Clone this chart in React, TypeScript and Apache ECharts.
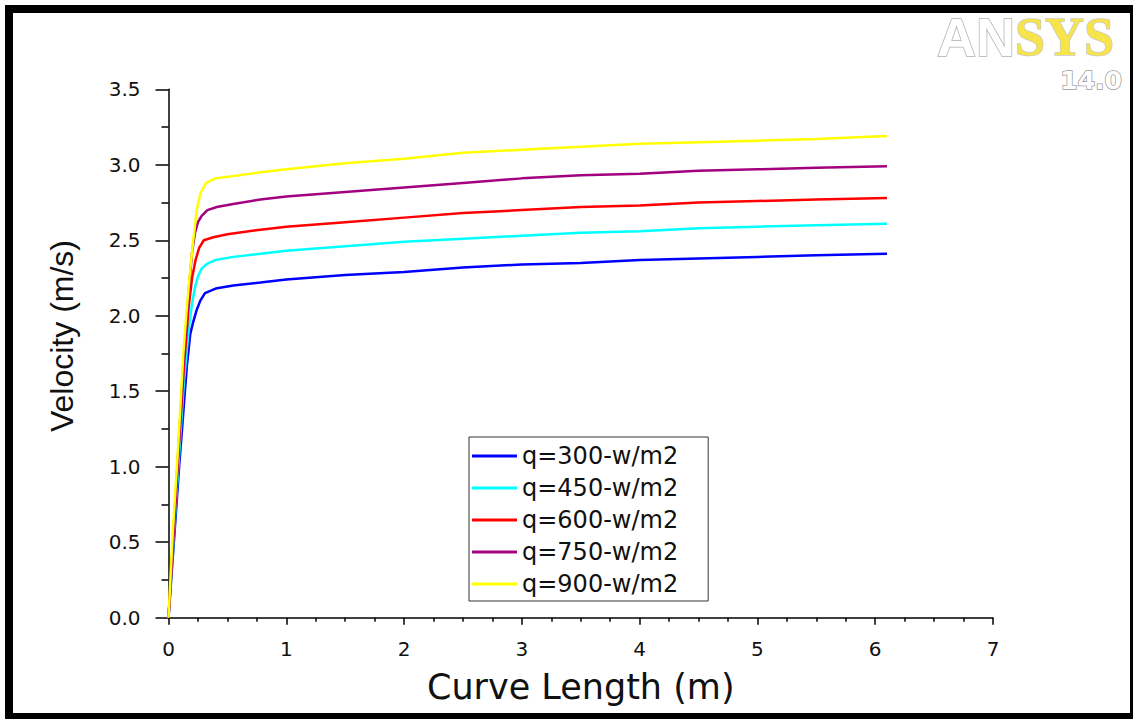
import React, { useEffect, useRef } from "react";
import * as echarts from "echarts";

const seriesNames = ["q=300-w/m2", "q=450-w/m2", "q=600-w/m2", "q=750-w/m2", "q=900-w/m2"];
const seriesColors = ["#0000ff", "#00ffff", "#ff0000", "#a30080", "#ffff00"];

const q300: number[][] = [
  [0, 0], [0.05, 0.55], [0.09, 1.0], [0.115, 1.25], [0.155, 1.66], [0.185, 1.88], [0.21, 1.96],
  [0.24, 2.04], [0.27, 2.1], [0.31, 2.15], [0.4, 2.18], [0.55, 2.2], [0.78, 2.22], [1.0, 2.24],
  [1.5, 2.27], [2.0, 2.29], [2.5, 2.32], [3.0, 2.34], [3.5, 2.35], [4.0, 2.37], [4.5, 2.38],
  [5.0, 2.39], [5.5, 2.4], [6.1, 2.41],
];
const q450: number[][] = [
  [0, 0], [0.045, 0.55], [0.09, 1.08], [0.13, 1.55], [0.17, 1.9], [0.2, 2.08], [0.225, 2.19],
  [0.25, 2.26], [0.28, 2.31], [0.32, 2.34], [0.4, 2.37], [0.55, 2.39], [0.78, 2.41], [1.0, 2.43],
  [1.5, 2.46], [2.0, 2.49], [2.5, 2.51], [3.0, 2.53], [3.5, 2.55], [4.0, 2.56], [4.5, 2.58],
  [5.0, 2.59], [5.5, 2.6], [6.1, 2.61],
];
const q600: number[][] = [
  [0, 0], [0.04, 0.52], [0.085, 1.1], [0.13, 1.65], [0.17, 2.05], [0.2, 2.25], [0.23, 2.37],
  [0.26, 2.45], [0.3, 2.5], [0.38, 2.52], [0.5, 2.54], [0.78, 2.57], [1.0, 2.59], [1.5, 2.62],
  [2.0, 2.65], [2.5, 2.68], [3.0, 2.7], [3.5, 2.72], [4.0, 2.73], [4.5, 2.75], [5.0, 2.76],
  [5.5, 2.77], [6.1, 2.78],
];
const q750: number[][] = [
  [0, 0], [0.04, 0.53], [0.085, 1.13], [0.13, 1.72], [0.17, 2.15], [0.2, 2.42], [0.225, 2.55],
  [0.25, 2.62], [0.28, 2.66], [0.33, 2.7], [0.41, 2.72], [0.55, 2.74], [0.78, 2.77], [1.0, 2.79],
  [1.5, 2.82], [2.0, 2.85], [2.5, 2.88], [3.0, 2.91], [3.5, 2.93], [4.0, 2.94], [4.5, 2.96],
  [5.0, 2.97], [5.5, 2.98], [6.1, 2.99],
];
const q900: number[][] = [
  [0, 0], [0.036, 0.56], [0.083, 1.15], [0.126, 1.75], [0.15, 2.0], [0.18, 2.27], [0.21, 2.5],
  [0.24, 2.7], [0.27, 2.81], [0.32, 2.88], [0.4, 2.91], [0.5, 2.92], [0.78, 2.95], [1.0, 2.97],
  [1.5, 3.01], [2.0, 3.04], [2.5, 3.08], [3.0, 3.1], [3.5, 3.12], [4.0, 3.14], [4.5, 3.15],
  [5.0, 3.16], [5.5, 3.17], [6.1, 3.19],
];
const seriesData = [q300, q450, q600, q750, q900];

const xTitle = "Curve Length (m)";
const yTitle = "Velocity (m/s)";

export default function App() {
  const ref = useRef<HTMLDivElement>(null);
  useEffect(() => {
    if (!ref.current) return;
    const chart = echarts.init(ref.current, undefined, { renderer: "svg" });
    const option: any = {
      animation: false,
      backgroundColor: "#ffffff",
      grid: { left: 168.5, right: 140, top: 89.3, bottom: 101.3, containLabel: false },
      legend: {
        orient: "vertical",
        left: 469,
        top: 437,
        padding: [7, 30, 5, 3],
        itemWidth: 45,
        itemHeight: 3,
        itemGap: 8,
        icon: "rect",
        backgroundColor: "#ffffff",
        borderColor: "#333333",
        borderWidth: 1,
        borderRadius: 0,
        textStyle: { fontFamily: "DejaVu Sans", fontSize: 24, color: "#111111" },
        data: seriesNames,
      },
      xAxis: {
        type: "value",
        min: 0,
        max: 7,
        interval: 1,
        name: xTitle,
        nameLocation: "middle",
        nameGap: 52,
        nameTextStyle: { fontFamily: "DejaVu Sans", fontSize: 35, color: "#111111" },
        axisLine: { show: true, lineStyle: { color: "#000", width: 1.5 } },
        axisTick: { show: true, length: 7, lineStyle: { color: "#000", width: 1.5 } },
        minorTick: { show: true, splitNumber: 4, length: 4, lineStyle: { color: "#000", width: 1.5 } },
        axisLabel: { margin: 21, fontFamily: "DejaVu Sans", fontSize: 20, color: "#111111" },
        splitLine: { show: false },
      },
      yAxis: {
        type: "value",
        min: 0,
        max: 3.5,
        interval: 0.5,
        axisLine: { show: true, lineStyle: { color: "#000", width: 1.5 } },
        axisTick: { show: true, length: 13, lineStyle: { color: "#000", width: 1.5 } },
        minorTick: { show: true, splitNumber: 2, length: 7, lineStyle: { color: "#000", width: 1.5 } },
        axisLabel: {
          margin: 28,
          fontFamily: "DejaVu Sans",
          fontSize: 20,
          color: "#111111",
          formatter: (v: number) => v.toFixed(1),
        },
        splitLine: { show: false },
      },
      series: seriesNames.map((name, i) => ({
        name,
        type: "line",
        data: seriesData[i],
        symbol: "none",
        showSymbol: false,
        color: seriesColors[i],
        lineStyle: { color: seriesColors[i], width: 2.5 },
      })),
      graphic: [
        {
          type: "text",
          x: 62,
          y: 336,
          rotation: Math.PI / 2,
          style: {
            text: yTitle,
            font: "32px 'Liberation Sans', Arial, sans-serif",
            fill: "#111111",
            align: "center",
            verticalAlign: "middle",
          },
        },
        {
          type: "text",
          x: 1114,
          y: 37,
          style: {
            text: "{a|AN}{b|SYS}",
            align: "right",
            verticalAlign: "middle",
            font: "bold 54px 'Liberation Serif', serif",
            rich: {
              a: { font: "bold 54px 'Liberation Sans', sans-serif", fill: "#ffffff", stroke: "#b0b0b0", lineWidth: 1.5, lineHeight: 44 },
              b: { font: "bold 54px 'Liberation Serif', serif", fill: "#f7e34a", stroke: "#c8c8c8", lineWidth: 1.5, lineHeight: 44 },
            },
          },
        },
        {
          type: "text",
          x: 1122,
          y: 80,
          style: {
            text: "14.0",
            align: "right",
            verticalAlign: "middle",
            font: "bold 25px 'DejaVu Sans', sans-serif",
            fill: "#ffffff",
            stroke: "#9a9a9a",
            lineWidth: 1.5,
          },
        },
        {
          type: "rect",
          shape: { x: 9, y: 9, width: 1125, height: 708 },
          style: { fill: "none", stroke: "#000000", lineWidth: 8 },
          z: 100,
        },
      ],
    };
    chart.setOption(option);
    return () => chart.dispose();
  }, []);
  return (
    <div
      ref={ref}
      style={{ position: "fixed", left: 0, top: 0, width: 1133, height: 719, background: "#fff" }}
    />
  );
}
